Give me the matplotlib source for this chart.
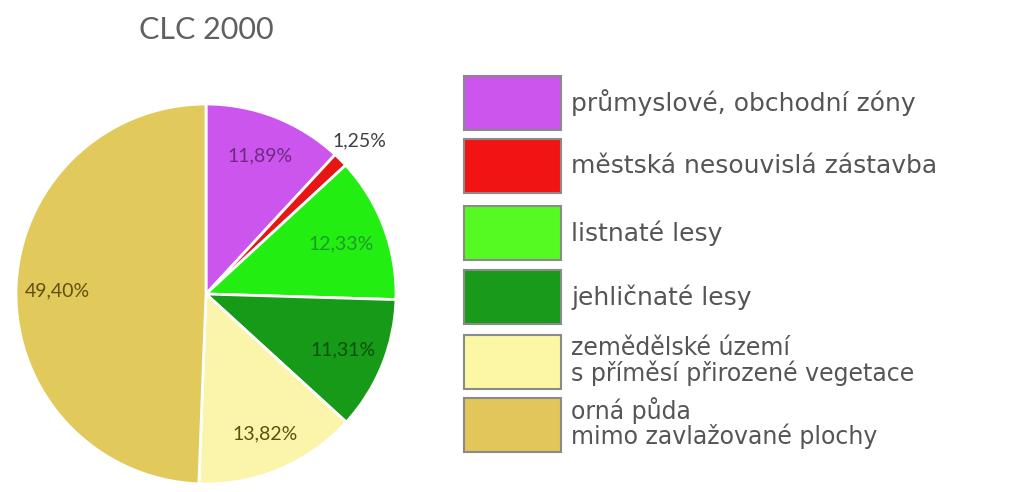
import numpy as np
import matplotlib
matplotlib.use('Agg')
import matplotlib.pyplot as plt
from matplotlib.patches import Rectangle

# data
categories = ['průmyslové, obchodní zóny',
              'městská nesouvislá zástavba',
              'listnaté lesy',
              'jehličnaté lesy',
              'zemědělské území\ns příměsí přirozené vegetace',
              'orná půda\nmimo zavlažované plochy']
shares = [11.89, 1.25, 12.33, 11.31, 13.82, 49.40]
pie_colors = ['#cc55ee', '#e81515', '#22ee11', '#179a17', '#faf5aa', '#e2c95c']
legend_colors = ['#cc55ee', '#f21414', '#55fa22', '#1a9a1a', '#fbf7a4', '#e2c65a']
label_colors = ['#6e2a80', '#404040', '#1f9a2a', '#0c4f0c', '#5e5010', '#5e5010']
label_dist = [0.78, 1.14, 0.76, 0.78, 0.80, 0.78]

W, H = 1011, 492
fig = plt.figure(figsize=(W / 100, H / 100), dpi=100)

# pie, centre (206, 294) px from top, radius 190 px
cx, cy, r = 206, 294, 190
ax = fig.add_axes([(cx - r) / W, (H - cy - r) / H, 2 * r / W, 2 * r / H])
wedges, _ = ax.pie(shares, colors=pie_colors, startangle=90, counterclock=False,
                   wedgeprops=dict(edgecolor='white', linewidth=2))
ax.set_xlim(-1, 1)
ax.set_ylim(-1, 1)
ax.set_aspect('equal')

for w, v, c, d in zip(wedges, shares, label_colors, label_dist):
    ang = np.deg2rad((w.theta1 + w.theta2) / 2)
    ax.text(d * np.cos(ang), d * np.sin(ang), f'{v:.2f}%'.replace('.', ','),
            ha='center', va='center', color=c, fontsize=14, family='Lato')

fig.text(cx / W, 1 - 30 / H, 'CLC 2000', ha='center', va='center',
         fontsize=22, color='#606060', family='Lato')

# legend drawn in pixel coords
lax = fig.add_axes([0, 0, 1, 1])
lax.set_xlim(0, W)
lax.set_ylim(H, 0)
lax.axis('off')
box_tops = [76, 139, 206, 270, 335, 398]
for top, col, lab in zip(box_tops, legend_colors, categories):
    lax.add_patch(Rectangle((464, top), 97, 54, facecolor=col, edgecolor='#8a8a8a', lw=1.5))
    lines = lab.split('\n')
    if len(lines) == 1:
        lax.text(571, top + 27, lines[0], ha='left', va='center', fontsize=18,
                 color='#555555', family='DejaVu Sans')
    else:
        for k, ln in enumerate(lines):
            lax.text(571, top + 13 + 25 * k, ln, ha='left', va='center', fontsize=17,
                     color='#555555', family='DejaVu Sans')

fig.savefig('out.png', dpi=100)
